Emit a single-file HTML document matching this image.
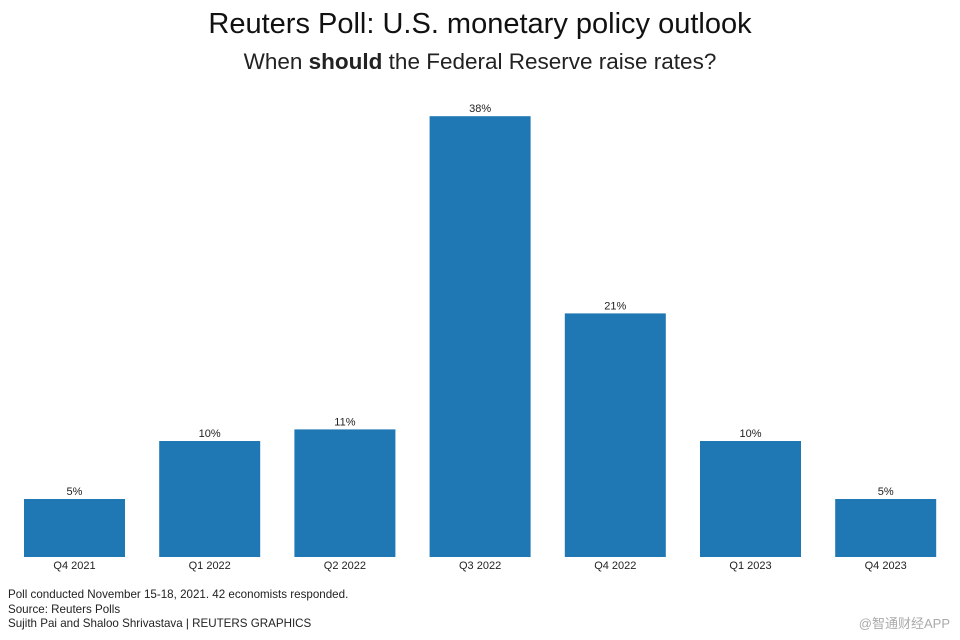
<!DOCTYPE html>
<html><head><meta charset="utf-8"><style>
body{margin:0;width:960px;height:640px;background:#fff;font-family:"Liberation Sans","Noto Sans CJK SC",sans-serif;position:relative;overflow:hidden}
.t{position:absolute;left:0;width:960px;text-align:center;color:#111}
.f{position:absolute;left:8px;font-size:11.6px;color:#222}
</style></head><body>
<div class="t" style="top:8px;font-size:29px">Reuters Poll: U.S. monetary policy outlook</div>
<div class="t" style="top:49px;font-size:22.5px;color:#222">When <b>should</b> the Federal Reserve raise rates?</div>
<svg id="c" width="960" height="640" style="position:absolute;left:0;top:0"></svg>
<div class="f" style="top:588px">Poll conducted November 15-18, 2021. 42 economists responded.</div>
<div class="f" style="top:603px">Source: Reuters Polls</div>
<div class="f" style="top:617px">Sujith Pai and Shaloo Shrivastava | REUTERS GRAPHICS</div>
<div style="position:absolute;right:10px;top:613px;font-size:13px;color:#aaa">@智通财经APP</div>
<script>
const categories=["Q4 2021","Q1 2022","Q2 2022","Q3 2022","Q4 2022","Q1 2023","Q4 2023"];
const values=[5,10,11,38,21,10,5];
const ns="http://www.w3.org/2000/svg",svg=document.getElementById('c');
const base=557,pxPer=11.6,x0=24,step=135.2,bw=101;
const y=v=>base-v*pxPer, x=i=>x0+i*step;
categories.forEach((c,i)=>{
 const r=document.createElementNS(ns,'rect');
 r.setAttribute('x',x(i));r.setAttribute('y',y(values[i]));r.setAttribute('width',bw);r.setAttribute('height',base-y(values[i]));r.setAttribute('fill','#1f77b4');
 
 
 svg.appendChild(r);
 const v=document.createElementNS(ns,'text');
 v.setAttribute('x',x(i)+bw/2);v.setAttribute('y',y(values[i])-4);v.setAttribute('text-anchor','middle');v.setAttribute('font-size','11');v.setAttribute('fill','#222');v.textContent=values[i]+'%';
 
 
 svg.appendChild(v);
 const l=document.createElementNS(ns,'text');
 l.setAttribute('x',x(i)+bw/2);l.setAttribute('y',base+12);l.setAttribute('text-anchor','middle');l.setAttribute('font-size','11');l.setAttribute('fill','#222');l.textContent=c;
 
 
 svg.appendChild(l);
});
</script>
</body></html>
